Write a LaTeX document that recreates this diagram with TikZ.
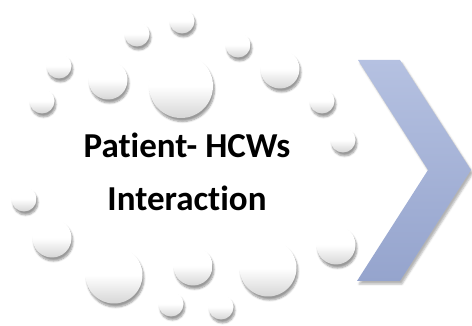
\documentclass[tikz,border=0pt]{standalone}
\usepackage{fontspec}
\setmainfont{Carlito}[Ligatures=CommonOff]
\usepackage{tikz}
\usetikzlibrary{positioning, shadows.blur}

\definecolor{chevtop}{HTML}{B5C1E1}
\definecolor{chevbot}{HTML}{95A4CD}

\begin{document}
\begin{tikzpicture}[
    x=1pt, y=-1pt,
    bubble/.style={circle, inner sep=0pt, top color=white, bottom color=black!16,
        middle color=white, blur shadow={shadow xshift=1.5pt, shadow yshift=-3.5pt,
        shadow blur steps=6, shadow opacity=40}},
    small/.style={bubble, minimum size=25pt},
    mid/.style={bubble, minimum size=39pt},
    label/.style={font=\bfseries\fontsize{35}{38}\selectfont, text=black}
]
\useasboundingbox (0,0) rectangle (472,326);
% chevron
\path[top color=chevtop, bottom color=chevbot,
      blur shadow={shadow xshift=2pt, shadow yshift=-3pt, shadow opacity=30}]
    (358,60) -- (400,60) -- (471,170) -- (400,281) -- (357,281) -- (428,170) -- cycle;
% bubbles, top arc
\node[small](b1) at (182,21) {};
\node[small](b2) at (137,34) {};
\node[small](b3) at (238,45) {};
\node[small](b4) at (59,66) {};
\node[mid](b5) at (108,80) {};
\node[bubble, minimum size=64pt](b6) at (181,86) {};
\node[mid](b7) at (280,69) {};
\node[small](b8) at (42,101) {};
\node[small](b9) at (322,101) {};
\node[small](b10) at (343,140) {};
% bubbles, bottom arc
\node[small](b11) at (24,199) {};
\node[mid](b12) at (52,238) {};
\node[bubble, minimum size=57pt](b13) at (114,275) {};
\node[mid](b14) at (193,266) {};
\node[bubble, minimum size=57pt](b15) at (268,268) {};
\node[mid](b16) at (336,245) {};
\node[small](b17) at (171,304) {};
\node[small](b18) at (221,307) {};
% text
\node[label](t1) at (187,145) {Patient- HCWs};
\node[label](t2)[below = 53pt of t1.center, anchor=center] {Interaction};
\end{tikzpicture}
\end{document}
